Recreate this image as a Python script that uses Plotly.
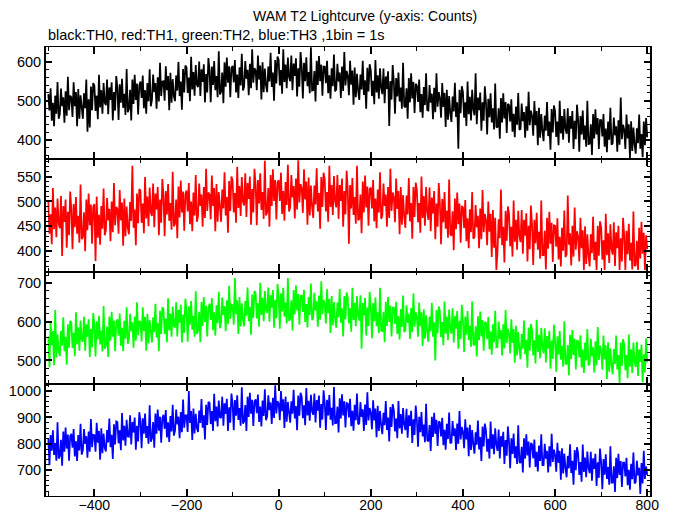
import plotly.graph_objects as go
from plotly.subplots import make_subplots

# Time axis: one value every 2.5 s from -500 s
T_START = -500
T_STEP = 2.5

th0_black = [
    517, 475, 532, 449, 495, 435, 513, 467, 548, 454,
    466, 531, 486, 509, 444, 524, 462, 561, 476, 513,
    509, 459, 547, 486, 522, 435, 530, 454, 514, 471,
    454, 519, 481, 554, 421, 504, 432, 536, 476, 545,
    539, 474, 513, 453, 566, 483, 527, 467, 545, 495,
    489, 554, 466, 534, 502, 547, 450, 522, 475, 563,
    532, 451, 542, 495, 556, 482, 518, 464, 581, 471,
    479, 528, 450, 554, 492, 566, 502, 544, 465, 539,
    549, 507, 564, 481, 527, 467, 545, 499, 580, 486,
    502, 567, 522, 545, 480, 560, 498, 597, 512, 549,
    550, 500, 588, 527, 563, 476, 571, 495, 555, 512,
    499, 564, 526, 599, 512, 549, 477, 581, 521, 590,
    585, 520, 559, 499, 612, 529, 573, 513, 591, 541,
    535, 600, 512, 580, 548, 593, 496, 568, 521, 609,
    577, 496, 587, 540, 601, 527, 563, 509, 626, 516,
    523, 572, 494, 598, 536, 610, 546, 588, 509, 583,
    589, 547, 604, 521, 567, 507, 585, 539, 620, 526,
    536, 601, 556, 579, 514, 594, 532, 631, 546, 583,
    577, 527, 615, 554, 590, 503, 598, 522, 582, 539,
    522, 587, 549, 622, 535, 572, 500, 604, 544, 613,
    604, 539, 578, 518, 631, 548, 592, 532, 610, 560,
    550, 615, 527, 595, 563, 608, 511, 583, 536, 624,
    587, 506, 597, 550, 611, 537, 573, 519, 636, 526,
    527, 576, 498, 602, 540, 614, 550, 592, 513, 587,
    587, 545, 602, 519, 565, 505, 583, 537, 618, 524,
    529, 594, 549, 572, 507, 587, 525, 624, 539, 576,
    564, 514, 602, 541, 577, 490, 585, 509, 569, 526,
    502, 567, 529, 602, 515, 552, 480, 584, 524, 593,
    577, 512, 551, 491, 604, 521, 565, 505, 583, 533,
    517, 582, 494, 562, 530, 575, 436, 550, 503, 591,
    548, 467, 558, 511, 572, 498, 534, 480, 597, 487,
    483, 532, 454, 558, 496, 570, 506, 548, 469, 543,
    539, 497, 554, 471, 517, 457, 535, 489, 570, 476,
    475, 540, 495, 518, 453, 533, 471, 570, 485, 522,
    507, 457, 545, 484, 520, 433, 528, 452, 512, 469,
    446, 511, 473, 546, 459, 496, 378, 528, 468, 537,
    522, 457, 496, 436, 549, 466, 510, 450, 528, 478,
    463, 570, 440, 508, 476, 521, 424, 496, 449, 537,
    495, 414, 505, 458, 519, 445, 481, 427, 544, 434,
    432, 481, 403, 507, 445, 519, 455, 497, 418, 492,
    489, 447, 504, 421, 467, 407, 485, 439, 520, 426,
    428, 493, 448, 471, 406, 486, 424, 523, 438, 475,
    461, 411, 499, 438, 474, 387, 482, 406, 466, 423,
    397, 462, 424, 497, 410, 447, 375, 479, 419, 488,
    473, 408, 447, 387, 500, 417, 461, 401, 479, 429,
    416, 481, 393, 461, 429, 474, 377, 449, 402, 490,
    451, 370, 461, 414, 475, 401, 437, 383, 500, 390,
    391, 440, 362, 466, 404, 478, 414, 456, 377, 451,
    451, 409, 466, 383, 429, 369, 447, 401, 482, 388,
    392, 457, 412, 435, 370, 450, 388, 508, 402, 439,
    427, 377, 465, 404, 440, 353, 448, 372, 432, 389,
    365, 430, 392, 465, 378, 415, 356, 447, 387, 456,
    407,
]

th1_red = [
    500, 435, 474, 414, 527, 444, 488, 428, 506, 456,
    446, 511, 390, 491, 459, 504, 407, 479, 432, 520,
    485, 404, 495, 448, 509, 435, 471, 417, 534, 424,
    429, 478, 400, 504, 442, 516, 452, 494, 415, 489,
    495, 380, 510, 427, 473, 413, 491, 445, 526, 432,
    442, 507, 462, 485, 420, 500, 438, 537, 452, 489,
    485, 435, 523, 462, 498, 411, 506, 430, 490, 447,
    434, 499, 461, 572, 447, 484, 412, 516, 456, 525,
    522, 457, 496, 436, 549, 466, 510, 450, 528, 478,
    471, 536, 448, 516, 484, 529, 432, 504, 457, 545,
    511, 430, 521, 474, 535, 461, 497, 443, 560, 450,
    455, 504, 426, 530, 468, 542, 478, 520, 441, 515,
    522, 480, 537, 454, 500, 440, 518, 472, 553, 459,
    471, 536, 491, 514, 449, 529, 467, 566, 481, 518,
    514, 464, 552, 491, 527, 440, 535, 459, 519, 476,
    459, 524, 486, 559, 472, 509, 437, 541, 481, 550,
    543, 478, 517, 457, 570, 487, 531, 471, 549, 499,
    492, 557, 469, 537, 505, 550, 453, 525, 478, 566,
    533, 452, 543, 496, 557, 483, 519, 465, 582, 472,
    478, 527, 449, 553, 491, 565, 501, 543, 464, 538,
    543, 501, 558, 475, 521, 461, 539, 493, 574, 480,
    488, 553, 508, 531, 466, 546, 484, 583, 498, 535,
    527, 477, 565, 504, 540, 453, 548, 472, 532, 489,
    467, 532, 494, 567, 480, 517, 445, 549, 489, 558,
    545, 480, 519, 459, 572, 489, 533, 473, 551, 501,
    488, 553, 465, 533, 501, 546, 449, 521, 474, 562,
    523, 415, 533, 486, 547, 473, 509, 455, 572, 462,
    465, 514, 436, 540, 478, 552, 488, 530, 451, 525,
    528, 486, 543, 460, 506, 446, 524, 478, 559, 465,
    471, 536, 491, 514, 449, 529, 467, 566, 481, 518,
    508, 458, 546, 485, 521, 434, 529, 453, 513, 470,
    447, 512, 474, 547, 460, 497, 425, 529, 469, 538,
    523, 458, 497, 437, 550, 467, 511, 451, 529, 479,
    463, 528, 440, 508, 476, 521, 424, 496, 449, 537,
    495, 414, 505, 458, 519, 445, 481, 427, 544, 434,
    431, 480, 402, 506, 444, 518, 454, 496, 417, 491,
    488, 446, 503, 420, 466, 406, 484, 438, 519, 425,
    428, 493, 448, 471, 406, 486, 424, 523, 438, 475,
    462, 412, 500, 439, 475, 388, 483, 407, 467, 362,
    399, 464, 426, 524, 412, 449, 377, 481, 421, 490,
    475, 410, 449, 389, 502, 419, 463, 403, 481, 431,
    418, 483, 395, 463, 431, 476, 379, 451, 404, 492,
    453, 372, 463, 416, 477, 403, 439, 385, 502, 392,
    392, 441, 363, 467, 405, 479, 415, 457, 378, 452,
    451, 409, 466, 383, 429, 369, 447, 401, 482, 388,
    393, 512, 413, 436, 371, 451, 389, 488, 403, 440,
    429, 379, 467, 406, 442, 362, 450, 374, 434, 391,
    369, 434, 396, 469, 382, 419, 362, 451, 391, 460,
    448, 383, 422, 362, 475, 392, 436, 376, 454, 404,
    393, 458, 370, 438, 406, 451, 362, 426, 379, 467,
    431, 362, 441, 394, 455, 381, 417, 363, 480, 370,
    372, 421, 362, 447, 385, 459, 395, 437, 362, 432,
    404,
]

th2_green = [
    562, 482, 600, 539, 575, 488, 630, 507, 567, 524,
    511, 576, 538, 611, 524, 561, 489, 593, 533, 602,
    597, 532, 571, 511, 624, 541, 585, 525, 603, 553,
    548, 613, 525, 593, 561, 606, 509, 581, 534, 622,
    591, 510, 601, 554, 615, 541, 577, 523, 640, 530,
    538, 587, 509, 613, 551, 625, 561, 603, 524, 598,
    606, 564, 621, 538, 584, 524, 602, 556, 637, 543,
    555, 620, 575, 598, 533, 613, 551, 650, 565, 602,
    599, 549, 637, 576, 612, 525, 620, 544, 604, 561,
    546, 611, 573, 646, 559, 596, 524, 628, 568, 637,
    633, 568, 607, 547, 660, 577, 621, 561, 639, 589,
    585, 650, 562, 630, 598, 643, 546, 618, 571, 659,
    629, 548, 639, 592, 653, 579, 615, 561, 678, 568,
    576, 625, 547, 651, 589, 663, 599, 641, 562, 636,
    646, 604, 661, 578, 624, 564, 642, 596, 677, 583,
    597, 662, 617, 640, 575, 655, 593, 692, 607, 644,
    642, 592, 712, 619, 655, 568, 663, 587, 647, 604,
    588, 653, 615, 688, 601, 638, 566, 670, 610, 679,
    673, 608, 647, 587, 700, 617, 661, 601, 679, 629,
    623, 688, 600, 668, 636, 681, 584, 656, 609, 697,
    663, 582, 673, 626, 687, 613, 649, 595, 712, 602,
    606, 655, 577, 681, 619, 693, 629, 671, 592, 666,
    667, 625, 682, 599, 645, 585, 663, 617, 698, 604,
    609, 674, 629, 652, 587, 667, 605, 704, 619, 656,
    645, 595, 683, 622, 658, 571, 666, 590, 650, 607,
    584, 649, 611, 684, 597, 634, 562, 666, 606, 675,
    660, 595, 634, 574, 687, 604, 648, 588, 666, 616,
    603, 668, 530, 648, 616, 661, 564, 636, 589, 677,
    638, 557, 648, 601, 662, 588, 624, 570, 687, 577,
    576, 625, 547, 651, 589, 663, 599, 641, 562, 636,
    636, 594, 651, 568, 614, 554, 632, 586, 667, 573,
    577, 642, 597, 620, 555, 635, 573, 672, 587, 624,
    611, 561, 649, 588, 624, 537, 632, 556, 616, 573,
    548, 613, 575, 648, 561, 598, 500, 630, 570, 639,
    625, 560, 599, 539, 652, 569, 613, 553, 631, 581,
    569, 634, 546, 614, 582, 627, 530, 602, 555, 643,
    603, 522, 613, 566, 627, 553, 589, 535, 652, 542,
    539, 588, 510, 614, 552, 626, 562, 604, 525, 599,
    597, 555, 612, 529, 575, 515, 593, 547, 628, 534,
    535, 600, 555, 578, 513, 593, 531, 630, 545, 582,
    568, 518, 606, 545, 581, 494, 589, 513, 573, 530,
    503, 568, 530, 603, 516, 553, 481, 585, 525, 594,
    578, 513, 552, 492, 605, 522, 566, 506, 584, 534,
    518, 583, 495, 563, 531, 576, 479, 551, 504, 592,
    552, 471, 562, 515, 576, 502, 538, 484, 601, 491,
    491, 540, 462, 566, 504, 578, 514, 556, 477, 551,
    550, 508, 565, 482, 528, 468, 546, 500, 581, 487,
    491, 556, 511, 534, 469, 549, 487, 586, 501, 538,
    526, 476, 564, 503, 539, 452, 547, 471, 531, 488,
    464, 529, 491, 564, 477, 514, 442, 546, 486, 555,
    540, 475, 514, 454, 567, 484, 528, 468, 546, 496,
    483, 548, 460, 528, 496, 541, 444, 516, 469, 557,
    495,
]

th3_blue = [
    821, 719, 833, 774, 851, 758, 803, 736, 882, 744,
    753, 815, 717, 847, 770, 862, 782, 835, 736, 829,
    838, 785, 856, 752, 810, 735, 833, 775, 876, 759,
    775, 856, 800, 829, 747, 847, 770, 894, 787, 834,
    833, 770, 880, 804, 849, 740, 859, 764, 839, 785,
    771, 852, 805, 896, 787, 834, 743, 874, 798, 885,
    883, 802, 851, 776, 917, 813, 868, 793, 891, 828,
    827, 908, 798, 883, 843, 900, 778, 868, 809, 920,
    885, 783, 897, 838, 915, 822, 867, 800, 946, 808,
    821, 883, 785, 915, 838, 930, 850, 903, 804, 897,
    910, 857, 928, 824, 882, 807, 905, 847, 948, 831,
    849, 930, 874, 903, 821, 921, 844, 968, 861, 908,
    908, 845, 1000, 879, 924, 815, 934, 839, 914, 860,
    845, 926, 879, 970, 861, 908, 817, 948, 872, 959,
    956, 875, 924, 849, 990, 886, 941, 866, 964, 901,
    898, 979, 869, 954, 914, 971, 849, 939, 880, 991,
    954, 852, 966, 907, 984, 891, 936, 869, 1015, 877,
    885, 947, 849, 979, 902, 994, 914, 967, 868, 961,
    969, 916, 987, 883, 941, 866, 964, 906, 1007, 890,
    903, 984, 928, 957, 875, 975, 898, 1022, 915, 962,
    953, 890, 1000, 924, 969, 860, 979, 884, 959, 905,
    880, 961, 914, 1005, 896, 943, 852, 983, 907, 994,
    978, 897, 946, 871, 1012, 908, 963, 888, 986, 923,
    910, 991, 881, 966, 926, 983, 861, 951, 892, 1003,
    955, 853, 967, 908, 985, 892, 937, 870, 1016, 878,
    879, 941, 843, 973, 896, 988, 908, 961, 862, 955,
    953, 900, 971, 867, 925, 850, 948, 890, 991, 874,
    877, 958, 902, 931, 849, 949, 872, 996, 889, 936,
    918, 855, 965, 889, 934, 825, 944, 849, 924, 870,
    837, 918, 871, 962, 853, 900, 809, 940, 864, 951,
    928, 847, 896, 821, 962, 858, 913, 838, 936, 873,
    852, 933, 823, 908, 868, 925, 803, 893, 834, 945,
    891, 789, 903, 844, 921, 828, 873, 806, 952, 814,
    809, 871, 773, 903, 826, 918, 838, 891, 792, 885,
    881, 828, 899, 795, 853, 778, 876, 818, 919, 802,
    805, 886, 830, 859, 777, 877, 800, 924, 817, 864,
    846, 783, 893, 817, 862, 753, 872, 777, 852, 798,
    763, 844, 797, 888, 779, 826, 735, 866, 790, 877,
    851, 770, 819, 744, 885, 781, 836, 761, 859, 796,
    773, 854, 744, 829, 789, 846, 724, 814, 755, 866,
    809, 707, 821, 762, 839, 746, 791, 724, 870, 732,
    727, 789, 691, 821, 744, 836, 756, 809, 710, 803,
    798, 745, 816, 712, 770, 695, 793, 735, 836, 719,
    719, 800, 744, 773, 691, 791, 714, 838, 731, 778,
    757, 694, 804, 728, 773, 664, 783, 688, 763, 709,
    673, 754, 707, 798, 689, 736, 645, 776, 700, 787,
    763, 682, 731, 656, 797, 693, 748, 673, 771, 708,
    689, 770, 660, 745, 705, 762, 640, 730, 671, 782,
    730, 628, 742, 683, 760, 667, 712, 645, 791, 653,
    653, 715, 617, 747, 670, 762, 682, 735, 636, 729,
    729, 676, 747, 643, 701, 626, 724, 666, 767, 650,
    655, 736, 680, 709, 610, 727, 650, 774, 667, 714,
    682,
]

series = [th0_black, th1_red, th2_green, th3_blue]
colors = ["#000000", "#ff0000", "#00ff00", "#0000ff"]
y_ranges = [[351, 637], [359, 585], [440, 729], [602, 1028]]
y_dticks = [100, 50, 100, 100]
y_minor = [20, 10, 20, 20]
x_range = [-505, 806]

title_text = "WAM T2 Lightcurve (y-axis: Counts)"
subtitle_text = "black:TH0, red:TH1, green:TH2, blue:TH3 ,1bin = 1s"

FONT = "Liberation Sans, Arial, Helvetica, sans-serif"

fig = make_subplots(rows=4, cols=1, shared_xaxes=True, vertical_spacing=0)

for i, (vals, col) in enumerate(zip(series, colors)):
    fig.add_trace(
        go.Scatter(x0=T_START, dx=T_STEP, y=vals, mode="lines",
                   line=dict(color=col, width=1.75), showlegend=False,
                   hoverinfo="skip"),
        row=i + 1, col=1)
    fig.update_yaxes(
        range=y_ranges[i], dtick=y_dticks[i], tick0=0, automargin=False,
        showline=True, linecolor="black", linewidth=2, mirror="allticks",
        ticks="inside", ticklen=6, tickwidth=2, tickcolor="black",
        minor=dict(ticks="inside", ticklen=3, tickwidth=1, dtick=y_minor[i],
                   tick0=0, tickcolor="black"),
        showgrid=False, zeroline=False,
        tickfont=dict(family=FONT, size=14.5, color="black"),
        row=i + 1, col=1)
    fig.update_xaxes(
        range=x_range, dtick=200, tick0=0, automargin=False,
        showline=True, linecolor="black", linewidth=1.2, mirror="allticks",
        ticks="inside", ticklen=7, tickwidth=2, tickcolor="black",
        minor=dict(ticks="inside", ticklen=3.5, tickwidth=1, dtick=100,
                   tick0=0, tickcolor="black"),
        showgrid=False, zeroline=False,
        tickfont=dict(family=FONT, size=14, color="black"),
        row=i + 1, col=1)

fig.update_xaxes(ticklabelstandoff=-4, row=4, col=1)

fig.add_annotation(text=title_text, xref="paper", yref="paper",
                   x=0.5276, y=1.0698, xanchor="center", yanchor="middle",
                   showarrow=False, font=dict(family=FONT, size=14, color="black"))
fig.add_annotation(text=subtitle_text, xref="paper", yref="paper",
                   x=0.0, y=1.0274, xanchor="left", yanchor="middle",
                   showarrow=False, font=dict(family=FONT, size=14.5, color="black"))

# the page body adds an 8 px offset, so the figure is sized to fit the window
fig.update_layout(
    width=666, height=507,
    margin=dict(l=38, r=24, t=39, b=19),
    paper_bgcolor="white", plot_bgcolor="white",
    font=dict(family=FONT, color="black"),
)

fig.write_html("out.html")
